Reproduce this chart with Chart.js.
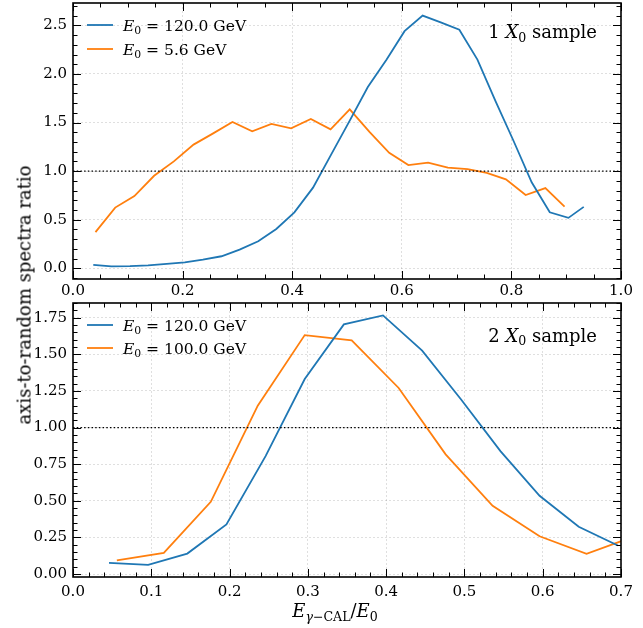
<!DOCTYPE html>
<html><head><meta charset="utf-8">
<script src="https://cdn.jsdelivr.net/npm/chart.js@4/dist/chart.umd.min.js"></script>
<style>
html,body{margin:0;padding:0;background:#fff;}
#wrap{position:relative;width:643px;height:628px;overflow:hidden;background:#fff;}
#c1{position:absolute;left:0;top:0;}
#c2{position:absolute;left:0;top:300px;}
#ylab{position:absolute;left:24px;top:295px;transform:translate(-50%,-50%) rotate(-90deg);font:18px 'DejaVu Serif';white-space:nowrap;color:#000;}
</style></head>
<body>
<div id="wrap">
<canvas id="c1" width="643" height="300"></canvas>
<canvas id="c2" width="643" height="328"></canvas>
<div id="ylab">axis-to-random spectra ratio</div>
</div>
<script>
// ---------- data ----------
const topBlueX   = [0.037,0.070,0.104,0.137,0.171,0.204,0.237,0.271,0.304,0.338,0.371,0.404,0.438,0.471,0.505,0.538,0.572,0.605,0.638,0.671,0.705,0.738,0.771,0.804,0.837,0.870,0.904,0.932];
const topBlueY   = [0.035,0.020,0.022,0.030,0.045,0.062,0.090,0.124,0.192,0.278,0.405,0.576,0.830,1.170,1.520,1.866,2.147,2.440,2.600,2.530,2.455,2.148,1.720,1.310,0.885,0.576,0.519,0.632];
const topOrangeX = [0.041,0.077,0.112,0.148,0.184,0.220,0.255,0.291,0.327,0.362,0.398,0.434,0.470,0.505,0.541,0.577,0.612,0.648,0.684,0.720,0.755,0.790,0.826,0.862,0.897];
const topOrangeY = [0.372,0.625,0.744,0.952,1.100,1.273,1.386,1.505,1.410,1.485,1.440,1.536,1.430,1.635,1.403,1.188,1.062,1.087,1.037,1.020,0.983,0.915,0.754,0.826,0.635];
const botBlueX   = [0.046,0.096,0.146,0.196,0.246,0.296,0.346,0.396,0.446,0.496,0.546,0.596,0.646,0.696];
const botBlueY   = [0.077,0.063,0.140,0.339,0.805,1.331,1.704,1.765,1.525,1.190,0.839,0.534,0.323,0.195];
const botOrangeX = [0.056,0.116,0.176,0.236,0.296,0.356,0.416,0.476,0.536,0.596,0.656,0.716];
const botOrangeY = [0.093,0.145,0.493,1.149,1.631,1.595,1.270,0.817,0.466,0.258,0.138,0.255];
const topEnergies = ['120.0','5.6'];
const botEnergies = ['120.0','100.0'];
const topSample = '1';
const botSample = '2';
const refLevel = [1.0];
const topXTicks = [0.0,0.2,0.4,0.6,0.8,1.0];
const topYTicks = [0.0,0.5,1.0,1.5,2.0,2.5];
const botXTicks = [0.0,0.1,0.2,0.3,0.4,0.5,0.6,0.7];
const botYTicks = [0.00,0.25,0.50,0.75,1.00,1.25,1.50,1.75];
// ----------------------------------------------------

const BLUE='#1f77b4', ORANGE='#ff7f0e', FAM="'DejaVu Serif'";
const pts=(xs,ys)=>xs.map((x,i)=>({x,y:ys[i]}));

function drawRich(ctx,parts,x,y,align,size){
  const f=st=>(st.includes('i')?'italic ':'')+(st.includes('s')?(size*0.7).toFixed(1):size)+'px '+FAM;
  let w=0;
  for(const [t,st] of parts){ctx.font=f(st);w+=ctx.measureText(t).width;}
  let cx=align==='right'?x-w:align==='center'?x-w/2:x;
  ctx.textAlign='left';ctx.textBaseline='alphabetic';ctx.fillStyle='#000';
  for(const [t,st] of parts){ctx.font=f(st);ctx.fillText(t,cx,y+(st.includes('s')?size*0.22:0));cx+=ctx.measureText(t).width;}
}

const decor={
  id:'decor',
  afterDraw(chart,args,o){
    const {ctx,chartArea:a,scales:{x,y}}=chart;
    ctx.save();
    ctx.strokeStyle='#000';ctx.lineWidth=1;
    const xt=(v,len)=>{const p=Math.round(x.getPixelForValue(v))+0.5;ctx.beginPath();ctx.moveTo(p,a.bottom);ctx.lineTo(p,a.bottom-len);ctx.moveTo(p,a.top);ctx.lineTo(p,a.top+len);ctx.stroke();};
    const yt=(v,len)=>{const p=Math.round(y.getPixelForValue(v))+0.5;ctx.beginPath();ctx.moveTo(a.left,p);ctx.lineTo(a.left+len,p);ctx.moveTo(a.right,p);ctx.lineTo(a.right-len,p);ctx.stroke();};
    for(let v=x.min;v<=x.max+1e-9;v+=o.xMinor){xt(v,4.5);}
    for(const v of o.xTicks) xt(v,8);
    const y0=Math.ceil(y.min/o.yMinor)*o.yMinor;
    for(let v=y0;v<=y.max+1e-9;v+=o.yMinor){yt(v,4.5);}
    for(const v of o.yTicks) yt(v,8);
    ctx.lineWidth=1.6;
    ctx.strokeRect(a.left,a.top,a.right-a.left,a.bottom-a.top);
    // legend
    const ds=chart.data.datasets.filter(d=>d.parts);
    ds.forEach((d,i)=>{
      const ry=a.top+o.legY[i];
      ctx.strokeStyle=d.borderColor;ctx.lineWidth=1.8;
      ctx.beginPath();ctx.moveTo(a.left+14,ry);ctx.lineTo(a.left+40,ry);ctx.stroke();
      drawRich(ctx,d.parts,a.left+50,ry+5.5,'left',15.5);
    });
    // sample annotation
    drawRich(ctx,o.title,a.right-24,a.top+o.titleY+6.5,'right',18);
    if(o.xlabel) drawRich(ctx,o.xlabel,335,317,'center',18);
    ctx.restore();
  }
};

function makeScales(xmin,xmax,ymin,ymax,xT,yT,xDec,yDec,xh,xpad){
  const tf={family:FAM,size:15};
  const grid={drawTicks:false,color:'rgba(0,0,0,0.16)',lineWidth:0.8};
  return {
    x:{type:'linear',min:xmin,max:xmax,
       afterBuildTicks:s=>{s.ticks=xT.map(v=>({value:v}));},
       afterFit:s=>{s.height=xh;s.paddingLeft=0;s.paddingRight=0;s.paddingTop=0;s.paddingBottom=0;},
       ticks:{callback:v=>Number(v).toFixed(xDec),font:tf,color:'#000',padding:xpad,maxRotation:0,autoSkip:false},
       grid,border:{display:false,dash:[2,2]}},
    y:{type:'linear',min:ymin,max:ymax,
       afterBuildTicks:s=>{s.ticks=yT.map(v=>({value:v}));},
       afterFit:s=>{s.width=73;s.paddingTop=0;s.paddingBottom=0;s.paddingLeft=0;s.paddingRight=0;},
       ticks:{callback:v=>Number(v).toFixed(yDec),font:tf,color:'#000',padding:6,autoSkip:false},
       grid,border:{display:false,dash:[2,2]}}
  };
}
const lineDs=(label,parts,data,color)=>({label,parts,data,borderColor:color,backgroundColor:color,borderWidth:1.8,pointRadius:0,tension:0,fill:false});
const refDs=(xmin,xmax)=>({label:'ratio = 1',data:[{x:xmin,y:refLevel[0]},{x:xmax,y:refLevel[0]}],borderColor:'#000',borderWidth:1.2,borderDash:[1.5,2.2],pointRadius:0,fill:false});
const eParts=e=>[['E','i'],['0','s'],[' = '+e+' GeV','r']];

new Chart(document.getElementById('c1'),{
  type:'line',
  data:{datasets:[
    refDs(0,1),
    lineDs('E0 = '+topEnergies[0]+' GeV',eParts(topEnergies[0]),pts(topBlueX,topBlueY),BLUE),
    lineDs('E0 = '+topEnergies[1]+' GeV',eParts(topEnergies[1]),pts(topOrangeX,topOrangeY),ORANGE)
  ]},
  options:{responsive:false,animation:false,
    layout:{padding:{left:0,right:22,top:3,bottom:0}},
    scales:makeScales(0,1,-0.11,2.73,topXTicks,topYTicks,1,1,21,3),
    plugins:{legend:{display:false},tooltip:{enabled:false},
      decor:{xTicks:topXTicks,yTicks:topYTicks,xMinor:0.05,yMinor:0.1,legY:[22,46],titleY:28.7,
        title:[[topSample+' ','r'],['X','i'],['0','s'],[' sample','r']]}}
  },
  plugins:[decor]
});

new Chart(document.getElementById('c2'),{
  type:'line',
  data:{datasets:[
    refDs(0,0.7),
    lineDs('E0 = '+botEnergies[0]+' GeV',eParts(botEnergies[0]),pts(botBlueX,botBlueY),BLUE),
    lineDs('E0 = '+botEnergies[1]+' GeV',eParts(botEnergies[1]),pts(botOrangeX,botOrangeY),ORANGE)
  ]},
  options:{responsive:false,animation:false,
    layout:{padding:{left:0,right:22,top:3,bottom:0}},
    scales:makeScales(0,0.7,-0.02,1.85,botXTicks,botYTicks,1,2,51,6),
    plugins:{legend:{display:false},tooltip:{enabled:false},
      decor:{xTicks:botXTicks,yTicks:botYTicks,xMinor:0.02,yMinor:0.05,legY:[22,45],titleY:32,
        title:[[botSample+' ','r'],['X','i'],['0','s'],[' sample','r']],
        xlabel:[['E','i'],['γ','si'],['−CAL','s'],['/','r'],['E','i'],['0','s']]}}
  },
  plugins:[decor]
});
</script>
</body></html>
